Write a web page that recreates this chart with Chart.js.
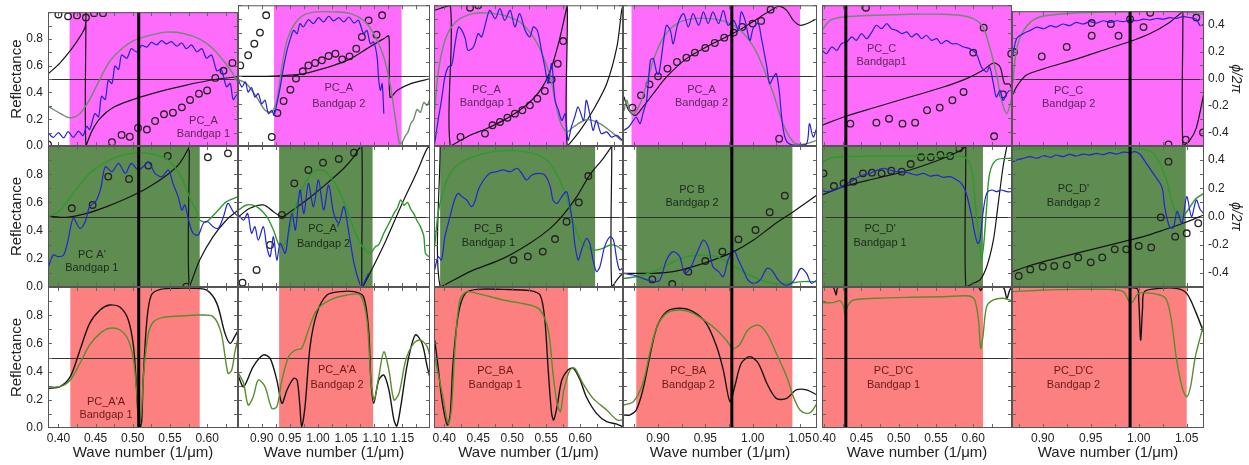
<!DOCTYPE html>
<html>
<head>
<meta charset="utf-8">
<script src="https://cdn.jsdelivr.net/npm/chart.js@4.4.1/dist/chart.umd.min.js"></script>
<style>
html, body { margin: 0; padding: 0; background: #fff; }
#wrap { position: relative; width: 1249px; height: 465px; overflow: hidden; }
#wrap canvas { position: absolute; left: 0; top: 0; }
</style>
</head>
<body>
<div id="wrap"></div>
<script>

// ---- top row (PC_A, PC_A, PC_C) : reflectance + phase ----
const t1Green = [[0.386,0.296],[0.411,0.218],[0.418,0.211],[0.429,0.242],[0.442,0.348],[0.456,0.502],[0.469,0.633],[0.483,0.716],[0.501,0.787],[0.523,0.827],[0.545,0.851],[0.568,0.841],[0.590,0.799],[0.608,0.727],[0.626,0.609],[0.635,0.538],[0.642,0.467]];
const t1Blue = [[0.386,0.10],[0.393,0.064],[0.400,0.10],[0.407,0.06],[0.413,0.107],[0.420,0.064],[0.427,0.111],[0.433,0.076],[0.438,0.147],[0.442,0.123],[0.449,0.242],[0.454,0.218],[0.458,0.372],[0.463,0.348],[0.467,0.49],[0.472,0.467],[0.476,0.597],[0.481,0.573],[0.485,0.68],[0.492,0.656],[0.498,0.727],[0.505,0.704],[0.512,0.751],[0.519,0.739],[0.525,0.775],[0.532,0.756],[0.539,0.787],[0.545,0.763],[0.552,0.780],[0.559,0.746],[0.566,0.770],[0.572,0.727],[0.579,0.756],[0.586,0.704],[0.593,0.727],[0.599,0.656],[0.606,0.680],[0.613,0.562],[0.619,0.573],[0.626,0.443],[0.631,0.467],[0.635,0.348],[0.640,0.384],[0.642,0.38]];
const t1Phase = [[0.386,0.038],[0.402,0.12],[0.418,0.227],[0.431,0.334],[0.436,0.39],[0.437,0.5],[0.437,-0.5],[0.445,-0.389],[0.456,-0.294],[0.474,-0.211],[0.501,-0.152],[0.537,-0.092],[0.572,-0.045],[0.608,-0.005],[0.642,0.019]];
const t1Dots = [[0.386,-0.488],[0.400,0.483],[0.413,0.469],[0.425,0.476],[0.437,0.46],[0.448,0.493],[0.460,0.493],[0.472,-0.472],[0.485,-0.417],[0.496,-0.431],[0.507,-0.365],[0.519,-0.377],[0.530,-0.313],[0.542,-0.263],[0.554,-0.251],[0.566,-0.211],[0.577,-0.156],[0.589,-0.109],[0.600,-0.085],[0.611,0.009],[0.622,0.062],[0.634,0.121]];

const t2Green = [[0.859,0.472],[0.873,0.443],[0.891,0.348],[0.906,0.254],[0.918,0.242],[0.927,0.33],[0.936,0.562],[0.945,0.751],[0.957,0.858],[0.974,0.929],[0.998,0.953],[1.028,0.953],[1.058,0.941],[1.081,0.893],[1.099,0.799],[1.117,0.633],[1.129,0.419],[1.138,0.182],[1.145,0.017],[1.150,0.03],[1.155,0.07],[1.160,0.10],[1.165,0.16],[1.170,0.19],[1.176,0.26],[1.182,0.24],[1.188,0.31],[1.194,0.29],[1.200,0.35]];
const t2Blue = [[0.859,0.467],[0.865,0.419],[0.871,0.455],[0.876,0.384],[0.882,0.415],[0.888,0.348],[0.894,0.372],[0.900,0.30],[0.906,0.325],[0.912,0.23],[0.918,0.254],[0.922,0.218],[0.927,0.30],[0.933,0.419],[0.939,0.562],[0.945,0.68],[0.951,0.763],[0.957,0.822],[0.963,0.799],[0.968,0.87],[0.974,0.846],[0.983,0.898],[0.992,0.870],[1.001,0.912],[1.010,0.882],[1.019,0.922],[1.028,0.889],[1.037,0.912],[1.046,0.882],[1.055,0.917],[1.064,0.874],[1.072,0.893],[1.081,0.799],[1.087,0.822],[1.093,0.727],[1.099,0.739],[1.105,0.633],[1.108,0.467],[1.111,0.396],[1.114,0.443],[1.117,0.23]];
const t2Phase = [[0.859,-0.005],[0.909,-0.005],[0.968,0.009],[0.998,0.038],[1.028,0.073],[1.058,0.121],[1.087,0.192],[1.117,0.263],[1.126,0.28],[1.128,-0.152],[1.141,-0.104],[1.165,-0.057],[1.200,-0.021]];
const t2Dots = [[0.862,0.073],[0.876,0.145],[0.887,0.227],[0.897,0.306],[0.908,0.429],[0.918,-0.436],[0.928,-0.265],[0.939,-0.18],[0.951,-0.10],[0.961,-0.021],[0.973,0.031],[0.983,0.073],[0.995,0.09],[1.007,0.109],[1.019,0.14],[1.031,0.156],[1.043,0.116],[1.056,0.137],[1.068,0.192],[1.078,0.275],[1.090,0.393],[1.104,0.291],[1.114,0.429]];

const t3Green = [[0.386,0.254],[0.391,0.514],[0.399,0.716],[0.409,0.834],[0.423,0.905],[0.443,0.941],[0.462,0.946],[0.487,0.929],[0.511,0.882],[0.531,0.775],[0.546,0.633],[0.556,0.491],[0.563,0.325],[0.570,0.182],[0.580,0.10],[0.590,0.135],[0.609,0.187],[0.629,0.159],[0.649,0.088],[0.661,0.04],[0.664,0.045]];
const t3Blue = [[0.386,0.017],[0.391,0.182],[0.396,0.325],[0.401,0.49],[0.406,0.562],[0.411,0.573],[0.416,0.727],[0.421,0.846],[0.426,0.822],[0.431,0.763],[0.435,0.68],[0.443,0.704],[0.450,0.799],[0.455,0.775],[0.462,0.893],[0.467,0.964],[0.475,0.905],[0.482,0.976],[0.489,0.893],[0.497,0.964],[0.504,0.846],[0.511,0.941],[0.519,0.822],[0.526,0.775],[0.531,0.846],[0.537,0.822],[0.543,0.68],[0.548,0.562],[0.553,0.443],[0.558,0.585],[0.563,0.325],[0.568,0.254],[0.573,0.182],[0.578,0.230],[0.582,0.04],[0.587,0.135],[0.592,0.206],[0.597,0.277],[0.605,0.182],[0.609,0.325],[0.614,0.230],[0.619,0.111],[0.624,0.182],[0.631,0.088],[0.639,0.10],[0.646,0.064],[0.654,0.076],[0.662,0.04]];
const t3Phase = [[0.385,0.464],[0.409,0.5],[0.409,-0.5],[0.438,-0.424],[0.462,-0.377],[0.487,-0.318],[0.511,-0.246],[0.531,-0.164],[0.546,-0.069],[0.558,0.062],[0.568,0.227],[0.575,0.37],[0.581,0.5],[0.581,-0.5],[0.600,-0.389],[0.619,-0.246],[0.639,-0.057],[0.654,0.204],[0.661,0.464],[0.663,0.5]];
const t3Dots = [[0.424,-0.436],[0.438,0.483],[0.450,0.5],[0.460,-0.412],[0.471,-0.353],[0.482,-0.329],[0.493,-0.299],[0.504,-0.27],[0.515,-0.246],[0.526,-0.211],[0.537,-0.164],[0.548,-0.109],[0.558,-0.028],[0.567,0.085],[0.575,0.246]];

const t4Green = [[0.864,0.25],[0.867,0.325],[0.870,0.254],[0.874,0.23],[0.881,0.30],[0.888,0.443],[0.895,0.609],[0.906,0.775],[0.920,0.87],[0.937,0.905],[0.955,0.905],[0.972,0.882],[0.987,0.822],[1.001,0.704],[1.011,0.562],[1.022,0.372],[1.032,0.159],[1.043,0.028],[1.053,0.012],[1.068,0.04]];
const t4Blue = [[0.864,0.111],[0.869,0.135],[0.874,0.182],[0.877,0.206],[0.881,0.159],[0.884,0.230],[0.888,0.325],[0.892,0.609],[0.895,0.621],[0.899,0.514],[0.901,0.514],[0.906,0.751],[0.909,0.858],[0.913,0.822],[0.916,0.727],[0.921,0.870],[0.927,0.941],[0.932,0.846],[0.937,0.941],[0.943,0.858],[0.948,0.953],[0.953,0.870],[0.958,0.953],[0.964,0.870],[0.969,0.964],[0.974,0.858],[0.980,0.893],[0.985,0.822],[0.988,0.953],[0.992,0.893],[0.997,0.751],[1.001,0.846],[1.006,0.870],[1.009,0.775],[1.015,0.562],[1.018,0.443],[1.022,0.491],[1.025,0.514],[1.028,0.396],[1.031,0.182],[1.034,0.064],[1.038,0.017],[1.046,0.005],[1.057,0.017],[1.060,0.159],[1.064,0.064],[1.068,0.135]];
const t4Phase = [[0.864,-0.15],[0.869,-0.246],[0.876,-0.282],[0.884,-0.223],[0.895,-0.128],[0.909,-0.009],[0.930,0.121],[0.951,0.204],[0.972,0.275],[0.990,0.341],[1.008,0.417],[1.022,0.476],[1.029,0.493],[1.036,0.464],[1.043,0.393],[1.050,0.358],[1.059,0.374],[1.068,0.405]];
const t4Dots = [[0.873,-0.227],[0.882,-0.14],[0.891,-0.062],[0.900,-0.005],[0.910,0.05],[0.920,0.097],[0.930,0.128],[0.939,0.164],[0.950,0.197],[0.960,0.232],[0.970,0.27],[0.980,0.306],[0.989,0.346],[1.000,0.37],[1.009,0.389],[1.019,0.469],[1.028,-0.448]];

const t5Green = [[0.397,0.822],[0.408,0.893],[0.426,0.917],[0.470,0.929],[0.515,0.936],[0.560,0.936],[0.582,0.929],[0.600,0.905],[0.613,0.846],[0.622,0.704],[0.631,0.514],[0.638,0.325],[0.645,0.23],[0.652,0.348]];
const t5Blue = [[0.397,0.68],[0.403,0.656],[0.410,0.704],[0.417,0.680],[0.423,0.727],[0.430,0.739],[0.437,0.775],[0.443,0.751],[0.450,0.799],[0.457,0.763],[0.464,0.811],[0.470,0.858],[0.477,0.834],[0.484,0.870],[0.490,0.834],[0.497,0.822],[0.504,0.799],[0.511,0.811],[0.517,0.775],[0.524,0.799],[0.531,0.763],[0.537,0.787],[0.544,0.751],[0.551,0.763],[0.557,0.727],[0.564,0.751],[0.571,0.727],[0.578,0.727],[0.587,0.704],[0.595,0.692],[0.604,0.656],[0.611,0.562],[0.618,0.526],[0.622,0.562],[0.627,0.443],[0.631,0.348],[0.636,0.396],[0.640,0.325],[0.645,0.372],[0.649,0.396],[0.652,0.384]];
const t5Phase = [[0.397,-0.353],[0.426,-0.294],[0.470,-0.223],[0.515,-0.152],[0.560,-0.081],[0.591,-0.021],[0.613,0.038],[0.627,0.09],[0.636,0.062],[0.642,-0.057],[0.649,-0.06],[0.652,-0.11]];
const t5Dots = [[0.435,-0.341],[0.456,0.483],[0.470,-0.334],[0.487,-0.306],[0.505,-0.341],[0.522,-0.334],[0.538,-0.246],[0.555,-0.227],[0.572,-0.175],[0.587,-0.116],[0.600,0.164],[0.614,0.341],[0.628,-0.431],[0.640,-0.133],[0.651,0.156]];

const t6Green = [[0.869,0.467],[0.871,0.633],[0.876,0.799],[0.887,0.917],[0.901,0.964],[0.935,0.988],[0.970,0.993],[1.005,1.0],[1.039,1.0],[1.057,0.988],[1.068,0.976]];
const t6Blue = [[0.869,0.68],[0.873,0.799],[0.880,0.834],[0.887,0.858],[0.894,0.882],[0.901,0.870],[0.908,0.893],[0.914,0.882],[0.921,0.905],[0.928,0.893],[0.935,0.917],[0.942,0.905],[0.949,0.922],[0.956,0.912],[0.963,0.929],[0.970,0.917],[0.977,0.929],[0.984,0.922],[0.991,0.936],[0.998,0.929],[1.005,0.941],[1.012,0.936],[1.019,0.946],[1.026,0.941],[1.032,0.953],[1.039,0.946],[1.046,0.960],[1.053,0.953],[1.060,0.941],[1.064,0.893],[1.068,0.905]];
const t6Phase = [[0.869,-0.116],[0.873,-0.057],[0.883,0.026],[0.901,0.073],[0.935,0.145],[0.970,0.227],[0.991,0.275],[1.012,0.334],[1.032,0.417],[1.045,0.493],[1.046,0.5],[1.046,-0.5],[1.053,-0.46],[1.060,-0.365],[1.068,-0.104]];
const t6Dots = [[0.870,0.197],[0.899,0.164],[0.925,0.235],[0.951,0.412],[0.951,0.318],[0.971,0.405],[0.979,0.318],[0.991,0.441],[1.005,0.382],[1.012,0.488],[1.031,-0.488],[1.049,-0.453],[1.060,0.453],[1.067,-0.4]];

// ---- middle row (PC A', PC_B, PC_D') ----
const m1Green = [[0.386,0.499],[0.400,0.534],[0.420,0.664],[0.442,0.806],[0.465,0.889],[0.487,0.936],[0.510,0.953],[0.532,0.936],[0.550,0.889],[0.566,0.771],[0.577,0.629],[0.586,0.534],[0.590,0.475],[0.599,0.463],[0.613,0.534],[0.626,0.605],[0.642,0.641]];
const m1Blue = [[0.386,0.132],[0.393,0.227],[0.400,0.215],[0.407,0.227],[0.413,0.333],[0.420,0.487],[0.429,0.416],[0.436,0.463],[0.442,0.57],[0.450,0.605],[0.457,0.70],[0.463,0.853],[0.472,0.818],[0.481,0.877],[0.490,0.806],[0.498,0.877],[0.507,0.83],[0.514,0.853],[0.521,0.889],[0.530,0.806],[0.539,0.783],[0.548,0.83],[0.554,0.735],[0.561,0.641],[0.566,0.546],[0.570,0.582],[0.575,0.475],[0.581,0.381],[0.588,0.369],[0.595,0.452],[0.601,0.463],[0.608,0.428],[0.615,0.416],[0.622,0.499],[0.628,0.593],[0.635,0.534],[0.642,0.499]];
const m1Phase = [[0.386,0.004],[0.411,-0.006],[0.438,0.022],[0.465,0.07],[0.492,0.129],[0.519,0.20],[0.546,0.294],[0.563,0.377],[0.575,0.483],[0.576,0.5],[0.576,-0.5],[0.590,-0.309],[0.608,-0.143],[0.626,-0.025],[0.642,0.046]];
const m1Dots = [[0.418,0.058],[0.446,0.082],[0.467,0.283],[0.495,0.266],[0.521,0.361],[0.547,0.429],[0.572,-0.498],[0.601,0.42],[0.628,0.448]];

const m2Green = [[0.859,0.546],[0.873,0.582],[0.891,0.57],[0.909,0.499],[0.921,0.404],[0.933,0.286],[0.945,0.333],[0.957,0.522],[0.974,0.712],[0.992,0.818],[1.007,0.83],[1.022,0.783],[1.040,0.664],[1.058,0.475],[1.072,0.333],[1.084,0.262],[1.093,0.239],[1.102,0.286],[1.108,0.30],[1.117,0.381],[1.126,0.45],[1.135,0.522],[1.141,0.56],[1.147,0.617],[1.153,0.58],[1.159,0.60],[1.165,0.55],[1.170,0.522],[1.176,0.47],[1.182,0.428],[1.188,0.36],[1.191,0.239],[1.197,0.215]];
const m2Blue = [[0.859,0.511],[0.868,0.475],[0.875,0.522],[0.882,0.381],[0.888,0.428],[0.894,0.333],[0.903,0.428],[0.909,0.286],[0.915,0.215],[0.921,0.357],[0.927,0.191],[0.933,0.310],[0.942,0.239],[0.948,0.404],[0.954,0.522],[0.960,0.404],[0.968,0.688],[0.975,0.522],[0.983,0.735],[0.992,0.570],[1.001,0.759],[1.010,0.546],[1.019,0.723],[1.028,0.522],[1.037,0.452],[1.046,0.57],[1.055,0.381],[1.064,0.168],[1.072,0.05],[1.078,0.0],[1.084,0.05],[1.090,0.097]];
const m2Phase = [[0.859,-0.001],[0.879,0.058],[0.903,0.082],[0.921,0.034],[0.936,-0.001],[0.951,0.034],[0.980,0.117],[1.016,0.235],[1.046,0.342],[1.064,0.424],[1.071,0.472],[1.078,0.5],[1.078,-0.5],[1.081,-0.49],[1.117,-0.202],[1.147,0.07],[1.176,0.318],[1.194,0.483],[1.200,0.5]];
const m2Dots = [[0.866,-0.469],[0.891,-0.379],[0.915,-0.202],[0.936,0.011],[0.958,0.235],[0.983,0.33],[1.009,0.382],[1.037,0.408],[1.064,0.453]];

const m3Green = [[0.386,0.286],[0.391,0.522],[0.399,0.688],[0.409,0.806],[0.423,0.877],[0.443,0.924],[0.472,0.960],[0.502,0.967],[0.531,0.948],[0.551,0.901],[0.565,0.806],[0.578,0.664],[0.585,0.546],[0.592,0.428],[0.600,0.333],[0.609,0.286],[0.619,0.262],[0.631,0.27],[0.644,0.298],[0.654,0.29],[0.662,0.262]];
const m3Blue = [[0.386,0.121],[0.391,0.215],[0.396,0.191],[0.401,0.357],[0.406,0.452],[0.411,0.546],[0.416,0.629],[0.421,0.664],[0.426,0.641],[0.433,0.617],[0.440,0.570],[0.445,0.605],[0.450,0.688],[0.458,0.759],[0.467,0.806],[0.477,0.818],[0.487,0.83],[0.497,0.818],[0.507,0.842],[0.514,0.806],[0.521,0.759],[0.529,0.794],[0.538,0.806],[0.548,0.794],[0.556,0.712],[0.560,0.617],[0.566,0.593],[0.573,0.641],[0.580,0.676],[0.585,0.57],[0.589,0.452],[0.592,0.31],[0.597,0.191],[0.602,0.262],[0.609,0.345],[0.614,0.310],[0.619,0.191],[0.624,0.109],[0.629,0.144],[0.636,0.286],[0.644,0.357],[0.649,0.333],[0.654,0.191],[0.658,0.121],[0.662,0.132]];
const m3Phase = [[0.394,0.5],[0.394,-0.5],[0.438,-0.391],[0.487,-0.297],[0.526,-0.19],[0.556,-0.084],[0.575,0.011],[0.595,0.141],[0.614,0.294],[0.634,0.413],[0.646,0.495],[0.6465,0.5],[0.6465,-0.5],[0.658,-0.427],[0.664,-0.40]];
const m3Dots = [[0.502,-0.309],[0.523,-0.283],[0.545,-0.249],[0.563,-0.16],[0.580,-0.037],[0.598,0.10],[0.612,0.287]];

const m4Green = [[0.864,0.061],[0.877,0.073],[0.895,0.109],[0.913,0.168],[0.930,0.215],[0.948,0.227],[0.962,0.215],[0.976,0.168],[0.990,0.109],[1.008,0.05],[1.022,0.026],[1.036,0.026],[1.053,0.038],[1.068,0.038]];
const m4Blue = [[0.864,0.097],[0.874,0.085],[0.884,0.061],[0.895,0.038],[0.902,0.050],[0.909,0.191],[0.916,0.251],[0.923,0.215],[0.928,0.097],[0.934,0.132],[0.941,0.239],[0.948,0.333],[0.953,0.286],[0.958,0.144],[0.964,0.109],[0.969,0.073],[0.974,0.191],[0.980,0.262],[0.985,0.191],[0.990,0.121],[0.995,0.05],[1.001,0.026],[1.008,0.05],[1.015,0.132],[1.020,0.121],[1.027,0.05],[1.034,0.014],[1.041,0.026],[1.046,0.073],[1.051,0.132],[1.057,0.097],[1.062,0.026],[1.068,0.05]];
const m4Phase = [[0.864,-0.403],[0.874,-0.403],[0.895,-0.403],[0.916,-0.391],[0.937,-0.356],[0.958,-0.309],[0.980,-0.249],[1.001,-0.167],[1.022,-0.06],[1.043,0.034],[1.068,0.152]];
const m4Dots = [[0.894,-0.446],[0.915,-0.479],[0.932,-0.391],[0.950,-0.316],[0.968,-0.249],[0.985,-0.162],[1.003,-0.096],[1.018,0.03],[1.034,0.148]];

const m5Green = [[0.397,0.877],[0.408,0.913],[0.426,0.924],[0.470,0.929],[0.515,0.929],[0.560,0.929],[0.587,0.924],[0.595,0.877],[0.600,0.759],[0.604,0.522],[0.608,0.333],[0.611,0.201],[0.614,0.30],[0.618,0.57],[0.622,0.806],[0.631,0.901],[0.652,0.913]];
const m5Blue = [[0.397,0.688],[0.403,0.676],[0.417,0.693],[0.426,0.72],[0.435,0.745],[0.443,0.773],[0.452,0.794],[0.461,0.806],[0.470,0.825],[0.479,0.842],[0.488,0.83],[0.497,0.818],[0.506,0.818],[0.515,0.806],[0.524,0.794],[0.533,0.806],[0.542,0.787],[0.551,0.794],[0.560,0.778],[0.569,0.783],[0.578,0.759],[0.584,0.735],[0.589,0.688],[0.593,0.617],[0.598,0.499],[0.602,0.381],[0.606,0.31],[0.609,0.333],[0.613,0.522],[0.618,0.664],[0.625,0.688],[0.631,0.676],[0.638,0.688],[0.645,0.676],[0.652,0.676]];
const m5Phase = [[0.397,0.152],[0.426,0.212],[0.470,0.271],[0.515,0.33],[0.560,0.413],[0.584,0.472],[0.589,0.495],[0.590,0.5],[0.590,-0.5],[0.600,-0.474],[0.609,-0.45],[0.618,-0.356],[0.627,-0.167],[0.633,0.07],[0.640,0.353],[0.645,0.495]];
const m5Dots = [[0.399,0.306],[0.413,0.216],[0.426,0.235],[0.439,0.247],[0.452,0.306],[0.464,0.311],[0.477,0.306],[0.490,0.325],[0.504,0.318],[0.516,0.372],[0.530,0.42],[0.543,0.42],[0.556,0.436],[0.569,0.429],[0.581,0.483]];

const m6Green = [[0.869,0.976],[0.901,0.983],[0.935,0.983],[0.970,0.983],[1.005,0.976],[1.015,0.948],[1.022,0.877],[1.029,0.759],[1.034,0.617],[1.039,0.522],[1.045,0.494],[1.050,0.534],[1.060,0.629],[1.068,0.664]];
const m6Blue = [[0.869,0.889],[0.873,0.901],[0.880,0.913],[0.887,0.924],[0.894,0.913],[0.901,0.931],[0.908,0.920],[0.914,0.936],[0.921,0.924],[0.928,0.941],[0.935,0.929],[0.942,0.943],[0.949,0.936],[0.956,0.948],[0.963,0.939],[0.970,0.953],[0.977,0.943],[0.984,0.957],[0.991,0.953],[0.996,0.96],[1.001,0.943],[1.008,0.877],[1.015,0.806],[1.024,0.712],[1.027,0.57],[1.032,0.428],[1.036,0.42],[1.040,0.537],[1.045,0.452],[1.050,0.641],[1.055,0.499],[1.060,0.617],[1.064,0.55],[1.068,0.52]];
const m6Phase = [[0.869,-0.391],[0.883,-0.356],[0.901,-0.32],[0.921,-0.285],[0.942,-0.249],[0.963,-0.214],[0.984,-0.178],[1.005,-0.143],[1.026,-0.096],[1.046,-0.048],[1.068,0.011]];
const m6Dots = [[0.875,-0.422],[0.887,-0.375],[0.900,-0.356],[0.912,-0.351],[0.925,-0.344],[0.937,-0.29],[0.950,-0.325],[0.962,-0.29],[0.975,-0.233],[0.987,-0.233],[1.000,-0.209],[1.013,-0.219],[1.023,-0.006],[1.031,0.389],[1.038,-0.143],[1.050,-0.119],[1.062,-0.048]];

// ---- bottom row (PC_A'A, PC_BA, PC_D'C) : two reflectance curves ----
const b1Black = [[0.386,0.281],[0.402,0.293],[0.416,0.364],[0.429,0.553],[0.442,0.742],[0.456,0.837],[0.469,0.872],[0.483,0.856],[0.494,0.766],[0.501,0.577],[0.505,0.293],[0.507,0.104],[0.510,0.009],[0.512,0.05],[0.514,0.34],[0.519,0.766],[0.525,0.943],[0.537,0.983],[0.559,0.991],[0.581,0.991],[0.599,0.979],[0.613,0.884],[0.624,0.671],[0.631,0.60],[0.637,0.648],[0.642,0.695]];
const b1Green = [[0.386,0.293],[0.402,0.293],[0.416,0.34],[0.429,0.459],[0.442,0.589],[0.456,0.671],[0.469,0.707],[0.483,0.695],[0.494,0.624],[0.501,0.482],[0.505,0.27],[0.509,0.033],[0.512,0.15],[0.515,0.411],[0.521,0.671],[0.528,0.754],[0.541,0.785],[0.563,0.794],[0.590,0.801],[0.608,0.79],[0.619,0.671],[0.628,0.388],[0.633,0.41],[0.637,0.53],[0.642,0.648]];
const b2Black = [[0.859,0.364],[0.868,0.293],[0.885,0.435],[0.903,0.518],[0.915,0.494],[0.927,0.34],[0.936,0.175],[0.945,0.27],[0.957,0.352],[0.963,0.34],[0.968,0.151],[0.971,0.009],[0.977,0.151],[0.986,0.577],[0.998,0.813],[1.016,0.943],[1.040,0.967],[1.064,0.967],[1.081,0.931],[1.090,0.695],[1.094,0.34],[1.099,0.175],[1.108,0.34],[1.117,0.376],[1.126,0.27],[1.135,0.057],[1.140,0.014],[1.147,0.151],[1.159,0.459],[1.173,0.66],[1.185,0.60],[1.194,0.435],[1.200,0.34]];
const b2Green = [[0.859,0.388],[0.868,0.317],[0.876,0.163],[0.885,0.222],[0.894,0.34],[0.906,0.293],[0.918,0.139],[0.927,0.151],[0.936,0.34],[0.948,0.506],[0.960,0.553],[0.971,0.565],[0.983,0.695],[0.998,0.837],[1.022,0.908],[1.052,0.943],[1.075,0.943],[1.087,0.766],[1.094,0.34],[1.100,0.199],[1.108,0.364],[1.117,0.541],[1.126,0.411],[1.135,0.199],[1.144,0.246],[1.156,0.482],[1.170,0.60],[1.182,0.624],[1.194,0.577],[1.200,0.482]];
const b3Black = [[0.386,0.624],[0.391,0.435],[0.396,0.222],[0.401,0.08],[0.405,0.021],[0.409,0.104],[0.413,0.459],[0.421,0.813],[0.431,0.955],[0.448,0.983],[0.487,0.983],[0.526,0.974],[0.541,0.943],[0.548,0.766],[0.553,0.411],[0.558,0.104],[0.561,0.057],[0.566,0.151],[0.573,0.34],[0.582,0.411],[0.590,0.423],[0.600,0.34],[0.609,0.222],[0.624,0.104],[0.639,0.045],[0.654,0.028],[0.663,0.009]];
const b3Green = [[0.386,0.506],[0.391,0.388],[0.399,0.199],[0.404,0.057],[0.407,0.033],[0.411,0.151],[0.416,0.577],[0.423,0.908],[0.433,0.967],[0.448,0.955],[0.487,0.908],[0.526,0.872],[0.541,0.837],[0.553,0.695],[0.560,0.388],[0.566,0.175],[0.571,0.116],[0.576,0.27],[0.585,0.411],[0.592,0.423],[0.604,0.317],[0.619,0.21],[0.639,0.128],[0.654,0.057],[0.663,0.057]];
const b4Black = [[0.864,0.092],[0.870,0.092],[0.877,0.128],[0.884,0.27],[0.892,0.53],[0.899,0.719],[0.909,0.825],[0.923,0.849],[0.937,0.825],[0.951,0.742],[0.962,0.577],[0.969,0.411],[0.976,0.187],[0.981,0.293],[0.988,0.459],[0.997,0.506],[1.006,0.459],[1.015,0.317],[1.025,0.21],[1.036,0.21],[1.046,0.27],[1.057,0.27],[1.068,0.234]];
const b4Green = [[0.864,0.163],[0.874,0.187],[0.884,0.317],[0.892,0.553],[0.899,0.719],[0.909,0.813],[0.923,0.837],[0.937,0.813],[0.951,0.754],[0.962,0.695],[0.972,0.624],[0.979,0.565],[0.986,0.589],[0.995,0.695],[1.006,0.730],[1.015,0.671],[1.025,0.53],[1.036,0.364],[1.043,0.222],[1.050,0.128],[1.057,0.104],[1.062,0.116],[1.068,0.175]];
const b5Black = [[0.397,0.998],[0.412,0.998],[0.416,0.943],[0.419,0.998],[0.515,0.998],[0.607,0.998],[0.610,0.974],[0.613,0.998],[0.640,0.998],[0.645,0.92],[0.649,0.979],[0.652,0.998]];
const b5Green = [[0.397,0.889],[0.412,0.889],[0.421,0.903],[0.426,0.861],[0.428,0.801],[0.431,0.861],[0.439,0.908],[0.470,0.92],[0.515,0.927],[0.560,0.931],[0.595,0.936],[0.602,0.908],[0.607,0.766],[0.610,0.565],[0.613,0.65],[0.618,0.861],[0.627,0.908],[0.640,0.92],[0.652,0.903]];
const b6Black = [[0.868,0.998],[0.970,0.998],[0.998,0.99],[1.000,0.908],[1.002,0.624],[1.004,0.85],[1.006,0.967],[1.022,0.99],[1.039,0.99],[1.050,0.955],[1.060,0.813],[1.068,0.671]];
const b6Green = [[0.868,0.967],[0.901,0.979],[0.935,0.983],[0.970,0.983],[0.984,0.967],[0.990,0.896],[0.993,0.89],[0.998,0.943],[1.001,0.96],[1.022,0.943],[1.029,0.908],[1.034,0.766],[1.039,0.506],[1.045,0.293],[1.050,0.222],[1.054,0.293],[1.059,0.506],[1.068,0.742]];

// bandgap ranges (wave number) per row / column
const topBands = [[0.415,0.642],[0.922,1.1485],[0.385,0.581],[0.872,1.050],[0.397,0.652],[0.868,1.068]];
const midBands = [[0.386,0.590],[0.931,1.097],[0.394,0.622],[0.877,1.042],[0.397,0.613],[0.868,1.049]];
const botBands = [[0.416,0.590],[0.931,1.098],[0.385,0.582],[0.877,1.042],[0.397,0.613],[0.868,1.050]];

// vertical marker lines per column (null = none)
const markerLines = [0.508, null, null, 0.978, 0.429, 0.991];

// axis ranges and tick labels per column
const xRanges = [[0.386,0.6415],[0.858,1.199],[0.385,0.663],[0.863,1.068],[0.397,0.652],[0.868,1.068]];
const xTickLabels = [
	[0.40,0.45,0.50,0.55,0.60],
	[0.90,0.95,1.00,1.05,1.10,1.15],
	[0.40,0.45,0.50,0.55,0.60],
	[0.90,0.95,1.00,1.05],
	[0.40,0.45,0.50,0.55,0.60],
	[0.90,0.95,1.00,1.05],
];
const reflTicks = [0.0,0.2,0.4,0.6,0.8];
const phaseTicks = [-0.4,-0.2,0.0,0.2,0.4];

// panel captions: line1, line2, x, y1, y2
const topText = [
	['PC_A','Bandgap 1',0.595,0.19,0.09],
	['PC_A','Bandgap 2',1.037,0.41,0.30],
	['PC_A','Bandgap 1',0.462,0.40,0.305],
	['PC_A','Bandgap 2',0.946,0.40,0.305],
	['PC_C','Bandgap1',0.477,0.692,0.597],
	['PC_C','Bandgap 2',0.927,0.41,0.31],
];
const midText = [
	["PC A'",'Bandgap 1',0.445,0.227,0.132],
	["PC_A'",'Bandgap 2',1.010,0.41,0.305],
	['PC_B','Bandgap 1',0.465,0.409,0.31],
	['PC B','Bandgap 2',0.936,0.688,0.593],
	["PC_D'",'Bandgap 1',0.475,0.409,0.31],
	["PC_D'",'Bandgap 2',0.932,0.693,0.593],
];
const botText = [
	["PC_A'A",'Bandgap 1',0.464,0.187,0.092],
	["PC_A'A",'Bandgap 2',1.034,0.411,0.305],
	['PC_BA','Bandgap 1',0.475,0.407,0.305],
	['PC_BA','Bandgap 2',0.932,0.407,0.305],
	["PC_D'C",'Bandgap 1',0.493,0.407,0.305],
	["PC_D'C",'Bandgap 2',0.932,0.407,0.305],
];


// page layout
const W = 1249, H = 465;
const colEdges = [[48,238],[238,430],[434,623],[623,817],[822,1012],[1012,1204]];
const rowEdges = [[5,146],[146,287],[287,428]];

const rowStyle = [
	{band: '#fd6cfb', green: '#6f8a70', text: '#5a2a5a'},
	{band: '#5f8c51', green: '#2f992f', text: '#1c2a1c'},
	{band: '#fd8080', green: '#5b8c2e', text: '#6a1a1a'},
];

const FONT = '"Liberation Sans", Arial, sans-serif';
Chart.defaults.font.family = FONT;
Chart.defaults.color = '#222';


function pts(arr)
{
	return arr.map((p) => ({x: p[0], y: p[1]}));
}

function lineSet(data, color, width, axis)
{
	return {
		data: pts(data),
		borderColor: color,
		borderWidth: width,
		pointRadius: 0,
		tension: 0.3,
		fill: false,
		yAxisID: axis,
	};
}

function dotSet(data)
{
	return {
		data: pts(data),
		showLine: false,
		pointRadius: 3.3,
		pointBorderWidth: 1.3,
		pointBorderColor: '#222',
		pointBackgroundColor: 'rgba(0,0,0,0)',
		yAxisID: 'y2',
	};
}

function makeDecor(panel)
{
	return {
		id: 'panelDecor',
		beforeDatasetsDraw(chart)
		{
			const {ctx, chartArea: a, scales} = chart;
			const x = scales.x, y = scales.y;
			ctx.save();

			const x0 = Math.max(a.left, x.getPixelForValue(panel.band[0]));
			const x1 = Math.min(a.right, x.getPixelForValue(panel.band[1]));
			ctx.fillStyle = panel.style.band;
			ctx.fillRect(x0, a.top, x1 - x0, a.bottom - a.top);

			const t = panel.text;
			ctx.fillStyle = panel.style.text;
			ctx.font = '11px ' + FONT;
			ctx.textAlign = 'center';
			ctx.textBaseline = 'middle';
			ctx.fillText(t[0], x.getPixelForValue(t[2]), y.getPixelForValue(t[3]));
			ctx.fillText(t[1], x.getPixelForValue(t[2]), y.getPixelForValue(t[4]));

			const ym = Math.round(y.getPixelForValue(0.5)) + 0.5;
			ctx.strokeStyle = '#333';
			ctx.lineWidth = 1;
			ctx.beginPath();
			ctx.moveTo(a.left, ym);
			ctx.lineTo(a.right, ym);
			ctx.stroke();
			ctx.restore();
		},
		afterDatasetsDraw(chart)
		{
			const {ctx, chartArea: a, scales} = chart;
			const x = scales.x, y = scales.y;
			ctx.save();

			if (panel.marker !== null)
			{
				const xm = x.getPixelForValue(panel.marker);
				ctx.strokeStyle = '#000';
				ctx.lineWidth = 3;
				ctx.beginPath();
				ctx.moveTo(xm, a.top);
				ctx.lineTo(xm, a.bottom);
				ctx.stroke();
			}

			// inward ticks
			ctx.strokeStyle = '#666';
			ctx.lineWidth = 1;
			ctx.beginPath();
			for (let v = Math.ceil(x.min / 0.025) * 0.025; v < x.max; v += 0.025)
			{
				const px = Math.round(x.getPixelForValue(v)) + 0.5;
				ctx.moveTo(px, a.bottom);
				ctx.lineTo(px, a.bottom - 4);
				ctx.moveTo(px, a.top);
				ctx.lineTo(px, a.top + 4);
			}
			for (let v = 0.1; v < 1; v += 0.1)
			{
				const py = Math.round(y.getPixelForValue(v)) + 0.5;
				ctx.moveTo(a.left, py);
				ctx.lineTo(a.left + 4, py);
				ctx.moveTo(a.right, py);
				ctx.lineTo(a.right - 4, py);
			}
			ctx.stroke();

			ctx.strokeStyle = '#555';
			ctx.strokeRect(a.left + 0.5, a.top + 0.5, a.right - a.left - 1, a.bottom - a.top - 1);
			ctx.restore();
		}
	};
}


function createPanel(panel)
{
	const [L, R] = colEdges[panel.col];
	const [T, B] = rowEdges[panel.row];

	const showY = panel.col === 0;
	const showY2 = panel.col === 5 && panel.row < 2;
	const showX = panel.row === 2;

	const canvas = document.createElement('canvas');
	canvas.width = W;
	canvas.height = H;
	document.getElementById('wrap').append(canvas);

	const datasets = [];
	if (panel.blue) datasets.push(lineSet(panel.blue, '#2424d2', 1.2, 'y'));
	datasets.push(lineSet(panel.green, panel.style.green, 1.4, 'y'));
	if (panel.phase) datasets.push(lineSet(panel.phase, '#151515', 1.2, 'y2'));
	if (panel.black) datasets.push(lineSet(panel.black, '#151515', 1.4, 'y'));
	if (panel.dots) datasets.push(dotSet(panel.dots));

	new Chart(canvas, {
		type: 'line',
		data: {datasets: datasets},
		options: {
			responsive: false,
			animation: false,
			devicePixelRatio: 1,
			events: [],
			layout: {
				padding: {
					left: showY ? 0 : L,
					right: showY2 ? 0 : W - R,
					top: T,
					bottom: showX ? 0 : H - B,
				}
			},
			plugins: {legend: {display: false}, tooltip: {enabled: false}},
			scales: {
				x: {
					type: 'linear',
					min: xRanges[panel.col][0],
					max: xRanges[panel.col][1],
					display: showX,
					grid: {display: false, drawTicks: false},
					border: {display: false},
					afterBuildTicks: (s) => { s.ticks = xTickLabels[panel.col].map((v) => ({value: v})); },
					afterFit: (s) => { if (showX) s.height = H - B; },
					ticks: {
						autoSkip: false, maxRotation: 0, padding: 3,
						font: {size: 12},
						callback: (v) => Number(v).toFixed(2),
					},
					title: {display: true, text: 'Wave number (1/\u03bcm)', font: {size: 15}, padding: {top: 0, bottom: 3}},
				},
				y: {
					type: 'linear', min: 0, max: 1,
					display: showY,
					position: 'left',
					grid: {display: false, drawTicks: false},
					border: {display: false},
					afterBuildTicks: (s) => { s.ticks = reflTicks.map((v) => ({value: v})); },
					afterFit: (s) => { if (showY) s.width = L; },
					ticks: {padding: 5, font: {size: 12}, callback: (v) => Number(v).toFixed(1)},
					title: {display: true, text: 'Reflectance', font: {size: 15}, padding: {top: 8, bottom: 0}},
				},
				y2: {
					type: 'linear', min: -0.5, max: 0.5,
					display: showY2,
					position: 'right',
					grid: {display: false, drawTicks: false},
					border: {display: false},
					afterBuildTicks: (s) => { s.ticks = phaseTicks.map((v) => ({value: v})); },
					afterFit: (s) => { if (showY2) s.width = W - R; },
					ticks: {padding: 4, font: {size: 12}, callback: (v) => Number(v).toFixed(1)},
					title: {display: true, text: '\u03d5/2\u03c0', font: {size: 14, style: 'italic'}, padding: {top: 5, bottom: 0}},
				},
			},
		},
		plugins: [makeDecor(panel)],
	});
}


const panels = [
	{row: 0, col: 0, blue: t1Blue, green: t1Green, phase: t1Phase, dots: t1Dots},
	{row: 0, col: 1, blue: t2Blue, green: t2Green, phase: t2Phase, dots: t2Dots},
	{row: 0, col: 2, blue: t3Blue, green: t3Green, phase: t3Phase, dots: t3Dots},
	{row: 0, col: 3, blue: t4Blue, green: t4Green, phase: t4Phase, dots: t4Dots},
	{row: 0, col: 4, blue: t5Blue, green: t5Green, phase: t5Phase, dots: t5Dots},
	{row: 0, col: 5, blue: t6Blue, green: t6Green, phase: t6Phase, dots: t6Dots},
	{row: 1, col: 0, blue: m1Blue, green: m1Green, phase: m1Phase, dots: m1Dots},
	{row: 1, col: 1, blue: m2Blue, green: m2Green, phase: m2Phase, dots: m2Dots},
	{row: 1, col: 2, blue: m3Blue, green: m3Green, phase: m3Phase, dots: m3Dots},
	{row: 1, col: 3, blue: m4Blue, green: m4Green, phase: m4Phase, dots: m4Dots},
	{row: 1, col: 4, blue: m5Blue, green: m5Green, phase: m5Phase, dots: m5Dots},
	{row: 1, col: 5, blue: m6Blue, green: m6Green, phase: m6Phase, dots: m6Dots},
	{row: 2, col: 0, green: b1Green, black: b1Black},
	{row: 2, col: 1, green: b2Green, black: b2Black},
	{row: 2, col: 2, green: b3Green, black: b3Black},
	{row: 2, col: 3, green: b4Green, black: b4Black},
	{row: 2, col: 4, green: b5Green, black: b5Black},
	{row: 2, col: 5, green: b6Green, black: b6Black},
];

const bandRows = [topBands, midBands, botBands];
const textRows = [topText, midText, botText];

for (let panel of panels)
{
	panel.band = bandRows[panel.row][panel.col];
	panel.text = textRows[panel.row][panel.col];
	panel.style = rowStyle[panel.row];
	panel.marker = markerLines[panel.col];
	createPanel(panel);
}

</script>
</body>
</html>
